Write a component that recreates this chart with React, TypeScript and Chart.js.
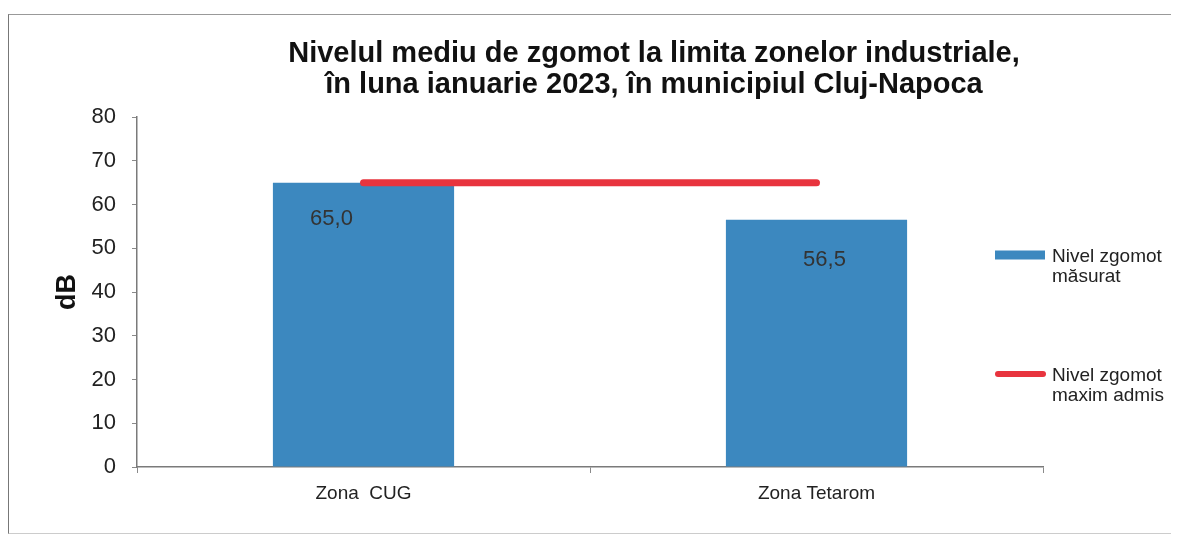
import React, { useEffect, useRef } from "react";
import { Chart, registerables } from "chart.js";

Chart.register(...registerables);

const CATEGORIES = ["Zona  CUG", "Zona Tetarom"];
const MEASURED = [65.0, 56.5];
const MAX_ADMIS = [65, 65];
const SERIES_NAMES = [
  ["Nivel zgomot", "măsurat"],
  ["Nivel zgomot", "maxim admis"],
];
const TITLE_LINES = [
  "Nivelul mediu de zgomot la limita zonelor industriale,",
  "în luna ianuarie 2023, în municipiul Cluj-Napoca",
];
const Y_TITLE = "dB";
const Y_MIN = 0;
const Y_MAX = 80;
const Y_STEP = 10;

const FONT = "'Liberation Sans', Arial, sans-serif";
const BAR_COLOR = "#3C88BF";
const LINE_COLOR = "#E8343E";

const W = 1162;
const H = 518;

const titlePlugin = {
  id: "customTitle",
  afterDraw(chart: any) {
    const { ctx, chartArea } = chart;
    ctx.save();
    ctx.fillStyle = "#111";
    ctx.font = `bold 29px ${FONT}`;
    ctx.textAlign = "center";
    ctx.textBaseline = "alphabetic";
    const cx = (chartArea.left + chartArea.right) / 2 + 64;
    TITLE_LINES.forEach((t, i) => ctx.fillText(t, cx, 47 + i * 31));
    ctx.restore();
  },
};

const valueLabelPlugin = {
  id: "valueLabels",
  afterDatasetsDraw(chart: any) {
    const { ctx } = chart;
    const meta = chart.getDatasetMeta(0);
    const dx = [-32, 8];
    const dy = [36, 40];
    ctx.save();
    ctx.fillStyle = "#333";
    ctx.font = `22px ${FONT}`;
    ctx.textAlign = "center";
    ctx.textBaseline = "middle";
    meta.data.forEach((el: any, i: number) => {
      const v = chart.data.datasets[0].data[i] as number;
      ctx.fillText(v.toFixed(1).replace(".", ","), el.x + dx[i], el.y + dy[i]);
    });
    ctx.restore();
  },
};

const legendPlugin = {
  id: "customLegend",
  afterDraw(chart: any) {
    const { ctx, chartArea } = chart;
    const x0 = chartArea.right - 48;
    const rows = [240, 359];
    ctx.save();
    ctx.font = `19px ${FONT}`;
    ctx.textBaseline = "middle";
    ctx.textAlign = "left";
    chart.data.datasets.forEach((ds: any, i: number) => {
      const y = rows[i];
      if (ds.type === "bar") {
        ctx.fillStyle = ds.backgroundColor;
        ctx.fillRect(x0, y - 4.5, 50, 9);
      } else {
        ctx.strokeStyle = ds.borderColor;
        ctx.lineWidth = 6;
        ctx.lineCap = "round";
        ctx.beginPath();
        ctx.moveTo(x0 + 3, y);
        ctx.lineTo(x0 + 48, y);
        ctx.stroke();
      }
      ctx.fillStyle = "#222";
      SERIES_NAMES[i].forEach((line, j) => {
        ctx.fillText(line, x0 + 57, y + 2 + j * 20);
      });
    });
    ctx.restore();
  },
};

export default function App() {
  const ref = useRef<HTMLCanvasElement | null>(null);
  useEffect(() => {
    document.documentElement.style.overflow = "hidden";
    if (!ref.current) return;
    const chart = new Chart(ref.current, {
      type: "bar",
      data: {
        labels: CATEGORIES,
        datasets: [
          {
            type: "bar",
            label: SERIES_NAMES[0].join(" "),
            data: MEASURED,
            backgroundColor: BAR_COLOR,
            borderWidth: 0,
            categoryPercentage: 0.8,
            barPercentage: 0.5,
            order: 2,
          } as any,
          {
            type: "line",
            label: SERIES_NAMES[1].join(" "),
            data: MAX_ADMIS,
            borderColor: LINE_COLOR,
            backgroundColor: LINE_COLOR,
            borderWidth: 7,
            borderCapStyle: "round",
            pointRadius: 0,
            pointHoverRadius: 0,
            fill: false,
            order: 1,
          } as any,
        ],
      },
      options: {
        responsive: false,
        animation: false,
        layout: { padding: { top: 102, right: 128, bottom: 0, left: 0 } },
        plugins: {
          legend: { display: false },
          title: { display: false },
          tooltip: { enabled: false },
        },
        scales: {
          x: {
            grid: {
              display: true,
              drawOnChartArea: false,
              drawTicks: true,
              tickLength: 6,
              color: "#8a8a8a",
            },
            border: { display: true, color: "#7a7a7a", width: 1.5 },
            ticks: {
              color: "#222",
              font: { family: FONT, size: 19 },
              padding: 9,
            },
            afterFit(scale: any) {
              scale.height = 66;
            },
          },
          y: {
            min: Y_MIN,
            max: Y_MAX,
            ticks: {
              stepSize: Y_STEP,
              color: "#222",
              font: { family: FONT, size: 22 },
              padding: 16,
            },
            grid: {
              display: true,
              drawOnChartArea: false,
              drawTicks: true,
              tickLength: 5,
              color: "#8a8a8a",
            },
            border: { display: true, color: "#7a7a7a", width: 1.5 },
            title: {
              display: true,
              text: Y_TITLE,
              color: "#111",
              font: { family: FONT, size: 27, weight: "bold" },
              padding: { top: 42, bottom: 0 },
            },
            afterFit(scale: any) {
              scale.width = 128;
            },
          },
        },
      },
      plugins: [titlePlugin, valueLabelPlugin, legendPlugin],
    });
    return () => chart.destroy();
  }, []);

  return (
    <div style={{ paddingTop: 6 }}>
      <div
        style={{
          width: W,
          height: H,
          borderLeft: "1.5px solid #777",
          borderTop: "1.5px solid #999",
          borderRight: "1.5px solid #999",
          borderBottom: "1px solid #ccc",
          background: "#fff",
        }}
      >
        <canvas ref={ref} width={W} height={H} style={{ display: "block" }} />
      </div>
    </div>
  );
}
